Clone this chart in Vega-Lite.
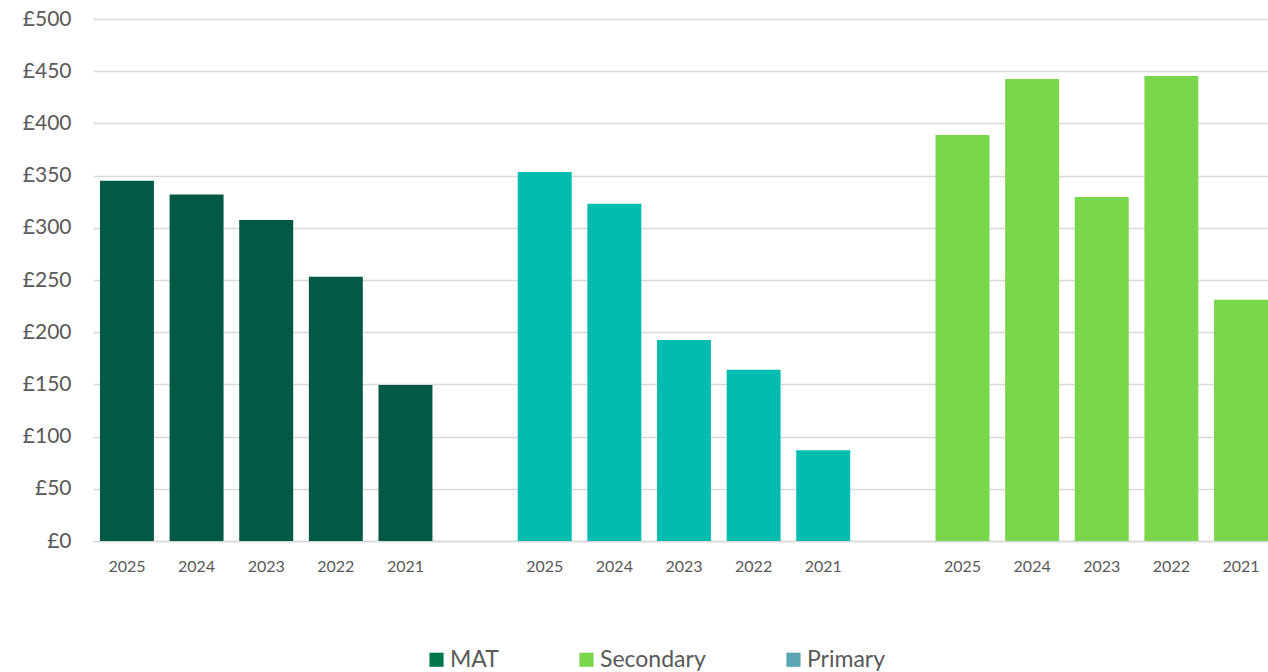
{
  "$schema": "https://vega.github.io/schema/vega-lite/v6.json",
  "autosize": {"type": "none"},
  "padding": {"left": 93, "top": 19, "right": 0, "bottom": 131},
  "width": 1175,
  "height": 522,
  "background": "white",
  "config": {
    "font": "Lato",
    "view": {"stroke": null}
  },
  "data": {
    "values": [
      {"slot": "MAT 2025", "year": "2025", "group": "MAT", "value": 345},
      {"slot": "MAT 2024", "year": "2024", "group": "MAT", "value": 332},
      {"slot": "MAT 2023", "year": "2023", "group": "MAT", "value": 307.5},
      {"slot": "MAT 2022", "year": "2022", "group": "MAT", "value": 253},
      {"slot": "MAT 2021", "year": "2021", "group": "MAT", "value": 149.5},
      {"slot": "Primary 2025", "year": "2025", "group": "Primary", "value": 353.5},
      {"slot": "Primary 2024", "year": "2024", "group": "Primary", "value": 323},
      {"slot": "Primary 2023", "year": "2023", "group": "Primary", "value": 192.5},
      {"slot": "Primary 2022", "year": "2022", "group": "Primary", "value": 164},
      {"slot": "Primary 2021", "year": "2021", "group": "Primary", "value": 87},
      {"slot": "Secondary 2025", "year": "2025", "group": "Secondary", "value": 389},
      {"slot": "Secondary 2024", "year": "2024", "group": "Secondary", "value": 442.5},
      {"slot": "Secondary 2023", "year": "2023", "group": "Secondary", "value": 329.5},
      {"slot": "Secondary 2022", "year": "2022", "group": "Secondary", "value": 445.5},
      {"slot": "Secondary 2021", "year": "2021", "group": "Secondary", "value": 231}
    ]
  },
  "encoding": {
    "x": {
      "field": "slot",
      "type": "nominal",
      "sort": null,
      "scale": {
        "domain": ["MAT 2025", "MAT 2024", "MAT 2023", "MAT 2022", "MAT 2021", "gap1",
                   "Primary 2025", "Primary 2024", "Primary 2023", "Primary 2022", "Primary 2021", "gap2",
                   "Secondary 2025", "Secondary 2024", "Secondary 2023", "Secondary 2022", "Secondary 2021"],
        "paddingInner": 0.225,
        "paddingOuter": 0.05,
        "align": 1
      },
      "axis": {
        "title": null,
        "labelExpr": "indexof(datum.value, 'gap') >= 0 ? '' : slice(datum.value, -4)",
        "labelAngle": 0,
        "labelFontSize": 16,
        "labelColor": "#595959",
        "labelPadding": 17,
        "ticks": false,
        "domainColor": "#D9D9D9",
        "domainWidth": 1.5,
        "grid": false
      }
    },
    "y": {
      "field": "value",
      "type": "quantitative",
      "scale": {"domain": [0, 500], "nice": false},
      "axis": {
        "title": null,
        "values": [0, 50, 100, 150, 200, 250, 300, 350, 400, 450, 500],
        "labelExpr": "'£' + datum.value",
        "labelFontSize": 21,
        "labelColor": "#595959",
        "labelPadding": 22,
        "ticks": false,
        "domain": false,
        "grid": true,
        "gridColor": "#D9D9D9",
        "gridWidth": 1.5
      }
    }
  },
  "layer": [
    {
      "mark": {"type": "bar"},
      "encoding": {
        "color": {
          "field": "group",
          "type": "nominal",
          "scale": {"domain": ["MAT", "Primary", "Secondary"], "range": ["#015946", "#00BDB0", "#7AD74B"]},
          "legend": null
        }
      }
    },
    {
      "mark": {"type": "bar", "opacity": 1},
      "encoding": {
        "y": {"datum": 0},
        "y2": {"datum": 0},
        "fill": {
          "field": "group",
          "type": "nominal",
          "scale": {"domain": ["MAT", "Secondary", "Primary"], "range": ["#00784A", "#7AD74B", "#5BA5B7"]},
          "legend": {
            "title": null,
            "orient": "none",
            "legendX": 332,
            "legendY": 629,
            "direction": "horizontal",
            "symbolType": "square",
            "symbolSize": 200,
            "symbolStrokeWidth": 0,
            "labelFontSize": 23,
            "labelColor": "#595959",
            "labelOffset": 2,
            "columnPadding": 76
          }
        }
      }
    }
  ]
}
